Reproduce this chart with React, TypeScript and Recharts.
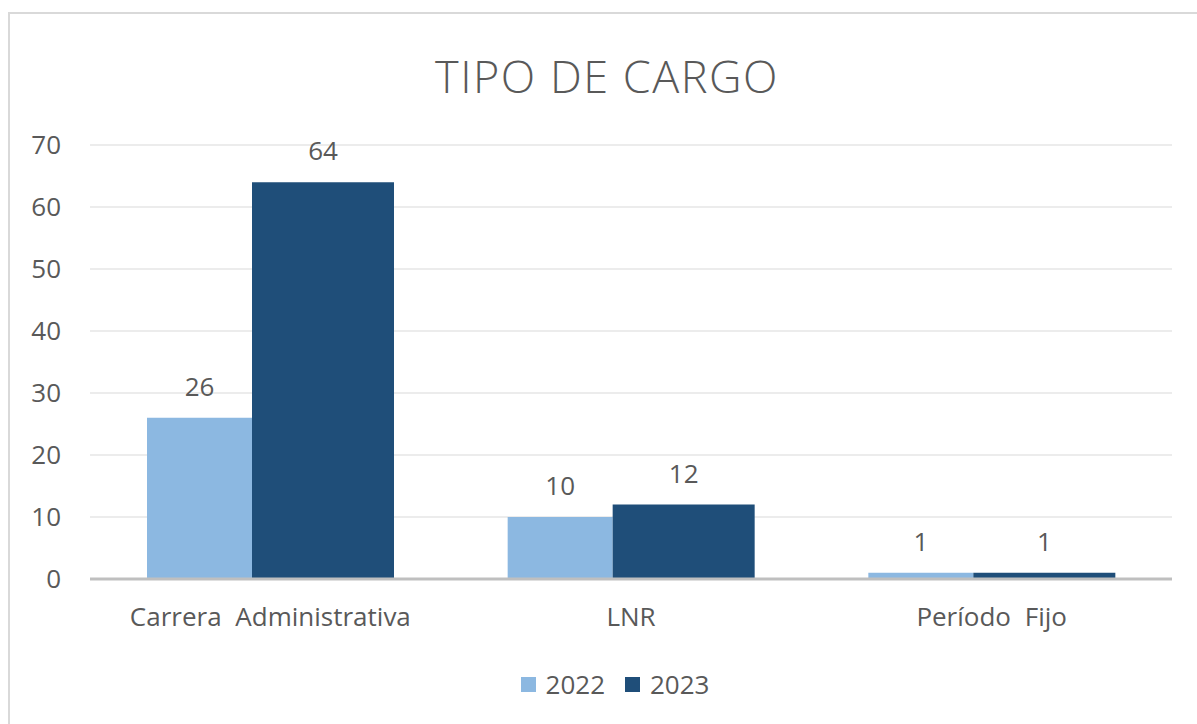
import { BarChart, Bar, XAxis, YAxis, CartesianGrid, Legend, LabelList } from "recharts";

const categories = ["Carrera Administrativa", "LNR", "Período Fijo"];
const values2022 = [26, 10, 1];
const values2023 = [64, 12, 1];
const yTicks = [0, 10, 20, 30, 40, 50, 60, 70];

const data = categories.map((name, i) => ({
  name,
  y2022: values2022[i],
  y2023: values2023[i],
}));

const FONT = "'Open Sans', sans-serif";
const TEXT = "#595959";
const LIGHT = "#8cb8e1";
const DARK = "#1f4e79";

const LegendBox = (props: any) => {
  const items = props.payload || [];
  return (
    <div
      style={{
        display: "flex",
        justifyContent: "center",
        alignItems: "center",
        height: 40,
        paddingLeft: 28,
        fontFamily: FONT,
        fontSize: 26,
        color: TEXT,
      }}
    >
      {items.map((it: any, i: number) => (
        <div key={i} style={{ display: "flex", alignItems: "center", marginRight: i === 0 ? 20 : 0 }}>
          <span style={{ width: 15, height: 15, background: it.color, display: "inline-block", marginRight: 10 }} />
          <span>{it.value}</span>
        </div>
      ))}
    </div>
  );
};

export default function App() {
  return (
    <div style={{ position: "absolute", left: 8, top: 12, width: 1189, height: 712 }}>
      <div
        style={{
          position: "absolute",
          inset: 0,
          borderTop: "2px solid #d9d9d9",
          borderLeft: "2px solid #d9d9d9",
          pointerEvents: "none",
        }}
      />
      <div
        style={{
          position: "absolute",
          top: 41,
          left: 0,
          width: 1189,
          paddingLeft: 9,
          boxSizing: "border-box",
          textAlign: "center",
          fontFamily: FONT,
          fontSize: 45,
          lineHeight: "45px",
          letterSpacing: 1.5,
          fontWeight: 300,
          color: TEXT,
        }}
      >
        TIPO DE CARGO
      </div>
      <BarChart
        width={1189}
        height={712}
        data={data}
        margin={{ top: 133, right: 25, left: 22, bottom: 20 }}
        barGap={0}
        style={{ fontFamily: FONT }}
      >
        <CartesianGrid vertical={false} stroke="#ececec" strokeWidth={2} />
        <XAxis
          dataKey="name"
          axisLine={{ stroke: "#bfbfbf", strokeWidth: 3 }}
          tickLine={false}
          tickSize={0}
          tickMargin={29}
          height={85}
          interval={0}
          tick={{ fill: TEXT, fontSize: 26, fontFamily: FONT, wordSpacing: 7 }}
        />
        <YAxis
          domain={[0, 70]}
          ticks={yTicks}
          width={60}
          axisLine={false}
          tickLine={false}
          tickSize={0}
          tickMargin={29}
          tick={{ fill: TEXT, fontSize: 26, fontFamily: FONT }}
        />
        <Legend verticalAlign="bottom" height={40} content={<LegendBox />} />
        <Bar dataKey="y2022" name="2022" fill={LIGHT} barSize={105} isAnimationActive={false}>
          <LabelList dataKey="y2022" position="top" offset={22} fill={TEXT} fontSize={26} fontFamily={FONT} />
        </Bar>
        <Bar dataKey="y2023" name="2023" fill={DARK} barSize={142} isAnimationActive={false}>
          <LabelList dataKey="y2023" position="top" offset={22} fill={TEXT} fontSize={26} fontFamily={FONT} />
        </Bar>
      </BarChart>
    </div>
  );
}
